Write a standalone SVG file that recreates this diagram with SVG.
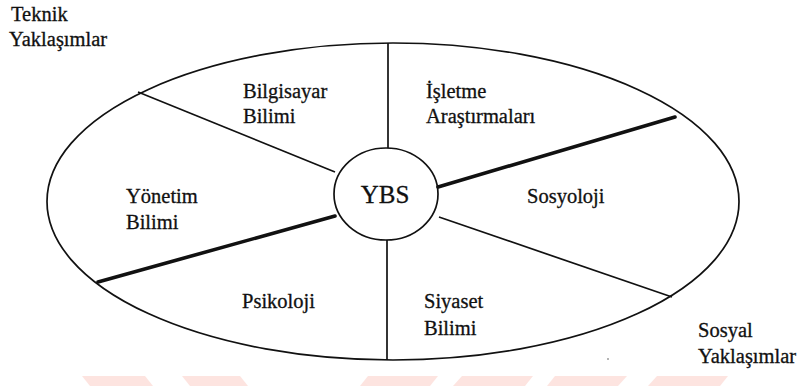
<svg xmlns="http://www.w3.org/2000/svg" width="805" height="391" viewBox="0 0 805 391">
<style>
text{font-family:"Liberation Serif","Times New Roman",serif;font-size:20.5px;fill:#111;stroke:#111;stroke-width:0.3}
.thin{stroke:#111;stroke-width:1.7;fill:none}
.thick{stroke:#111;stroke-width:3.6;fill:none;stroke-linecap:round}
.wm{fill:#fde4e0}
</style>
<rect width="805" height="391" fill="#fff"/>
<g id="watermark">
<polygon class="wm" points="82,376 145,376 153,386 90,386"/>
<polygon class="wm" points="182,376 240,376 248,386 190,386"/>
<polygon class="wm" points="368,376 438,376 430,386 360,386"/>
<polygon class="wm" points="462,376 533,376 525,386 453,386"/>
<polygon class="wm" points="555,376 627,376 618,386 547,386"/>
<polygon class="wm" points="657,376 728,376 720,386 648,386"/>
</g>
<g id="outer">
<ellipse class="thin" cx="393" cy="201.5" rx="346" ry="158.5"/>
</g>
<g id="connectors">
<line class="thin" x1="388" y1="43" x2="388" y2="148"/>
<line class="thin" x1="387" y1="240" x2="387" y2="360"/>
<line class="thin" x1="138" y1="92" x2="335" y2="172"/>
<line class="thin" x1="439" y1="217" x2="672" y2="297"/>
<line class="thick" x1="438" y1="187" x2="675" y2="117"/>
<line class="thick" x1="335" y1="216" x2="98" y2="282"/>
</g>
<g id="ybs">
<ellipse class="thin" cx="386" cy="194" rx="52" ry="46" fill="#fff"/>
<text x="385" y="203" text-anchor="middle" style="font-size:25px">YBS</text>
</g>
<g id="teknik"><text x="11" y="21">Teknik</text><text x="9" y="46">Yaklaşımlar</text></g>
<g id="bilgisayar"><text x="243" y="98">Bilgisayar</text><text x="243" y="123">Bilimi</text></g>
<g id="isletme"><text x="426" y="98">İşletme</text><text x="426" y="123">Araştırmaları</text></g>
<g id="yonetim"><text x="126" y="203">Yönetim</text><text x="126" y="229">Bilimi</text></g>
<g id="sosyoloji"><text x="527" y="203">Sosyoloji</text></g>
<g id="psikoloji"><text x="242" y="308">Psikoloji</text></g>
<g id="siyaset"><text x="424" y="308">Siyaset</text><text x="424" y="335">Bilimi</text></g>
<g id="sosyal"><text x="698" y="337">Sosyal</text><text x="698" y="363">Yaklaşımlar</text></g>
<circle cx="608" cy="359" r="0.8" fill="#555"/>
</svg>
